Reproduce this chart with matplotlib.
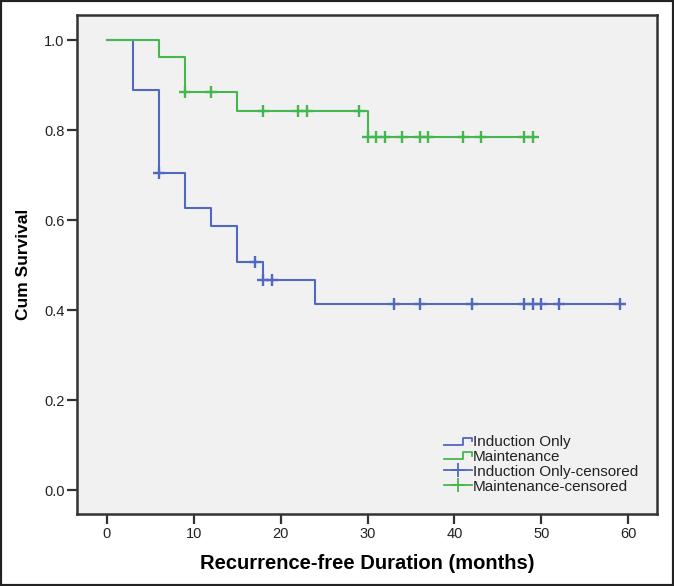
import matplotlib
matplotlib.use("Agg")
import matplotlib.pyplot as plt
import numpy as np
from matplotlib.legend_handler import HandlerBase
from matplotlib.lines import Line2D

plt.rcParams['font.family'] = ['Liberation Sans', 'DejaVu Sans']

# Step (event) times and survival levels
ind_times = [0, 3, 6, 9, 12, 15, 18, 24]
ind_surv = [1.0, 0.889, 0.704, 0.626, 0.587, 0.508, 0.466, 0.414]
ind_end = 59
ind_censored = [6, 17, 18, 19, 33, 36, 42, 48, 49, 50, 52, 59]

mnt_times = [0, 6, 9, 15, 30]
mnt_surv = [1.0, 0.962, 0.885, 0.843, 0.784]
mnt_end = 49
mnt_censored = [9, 12, 18, 22, 23, 29, 30, 31, 32, 34, 36, 37, 41, 43, 48, 49]

labels = ["Induction Only", "Maintenance", "Induction Only-censored", "Maintenance-censored"]
xticks = [0, 10, 20, 30, 40, 50, 60]
yticks = [0.0, 0.2, 0.4, 0.6, 0.8, 1.0]

blue = "#5068bf"
green = "#44b84f"

def surv_at(t, times, surv):
    idx = np.searchsorted(times, t, side='right') - 1
    return surv[idx]

fig = plt.figure(figsize=(6.74, 5.86), dpi=100)
ax = fig.add_axes([77/674, 1-514/586, (657-77)/674, (514-15)/586])
ax.set_facecolor("#f1f1f1")

def draw(times, surv, end, cens, color):
    xs = list(times) + [end]
    ys = list(surv) + [surv[-1]]
    ax.step(xs, ys, where='post', color=color, lw=1.5)
    cy = [surv_at(t, times, surv) for t in cens]
    ax.plot(cens, cy, ls='none', marker='+', color=color, ms=8, mew=1.7)

draw(ind_times, ind_surv, ind_end, ind_censored, blue)
draw(mnt_times, mnt_surv, mnt_end, mnt_censored, green)

ax.set_xlim(-3.42, 63.3)
ax.set_ylim(-0.053, 1.056)
ax.set_xticks(xticks)
ax.set_xticklabels([str(v) for v in xticks])
ax.set_yticks(yticks)
ax.set_yticklabels([f"{v:.1f}" for v in yticks])
for s in ax.spines.values():
    s.set_color("#333333")
    s.set_linewidth(1.8)
ax.tick_params(direction='out', length=7, width=1.6, color="#333333",
               labelsize=10.5, labelcolor="#222222", pad=2)

ax.set_xlabel("Recurrence-free Duration (months)", fontsize=14.5, fontweight='bold', labelpad=10)
ax.set_ylabel("Cum Survival", fontsize=12.5, fontweight='bold', labelpad=9)


class StepHandler(HandlerBase):
    def create_artists(self, legend, orig_handle, xdescent, ydescent, width, height, fontsize, trans):
        c = orig_handle.get_color()
        x0 = -xdescent
        y_low = -ydescent + height * 0.15
        y_high = -ydescent + height * 0.8
        xs = [x0, x0 + width * 0.68, x0 + width * 0.68, x0 + width, x0 + width]
        ys = [y_low, y_low, y_high, y_high, y_high - height * 0.3]
        l = Line2D(xs, ys, color=c, lw=1.3, transform=trans)
        return [l]


class CrossHandler(HandlerBase):
    def create_artists(self, legend, orig_handle, xdescent, ydescent, width, height, fontsize, trans):
        c = orig_handle.get_color()
        x0 = -xdescent
        ym = -ydescent + height / 2
        l = Line2D([x0, x0 + width], [ym, ym], color=c, lw=1.3, transform=trans)
        m = Line2D([x0 + width / 2], [ym], marker='+', ms=10, mew=1.3, color=c, ls='none', transform=trans)
        return [l, m]


h1 = Line2D([], [], color=blue)
h2 = Line2D([], [], color=green)
h3 = Line2D([], [], color=blue, marker='+')
h4 = Line2D([], [], color=green, marker='+')
leg = ax.legend([h1, h2, h3, h4], labels,
                handler_map={h1: StepHandler(), h2: StepHandler(), h3: CrossHandler(), h4: CrossHandler()},
                loc='lower right', bbox_to_anchor=(0.968, 0.041), frameon=False,
                fontsize=11, handlelength=1.8, handletextpad=0.1, labelspacing=0.05,
                borderpad=0.0, borderaxespad=0.0)
for t in leg.get_texts():
    t.set_color("#222222")

# outer border
fig.patches.append(plt.Rectangle((0, 0), 1, 1, transform=fig.transFigure, fill=False,
                                 edgecolor="#222222", lw=3))

fig.savefig("out.png", dpi=100)
